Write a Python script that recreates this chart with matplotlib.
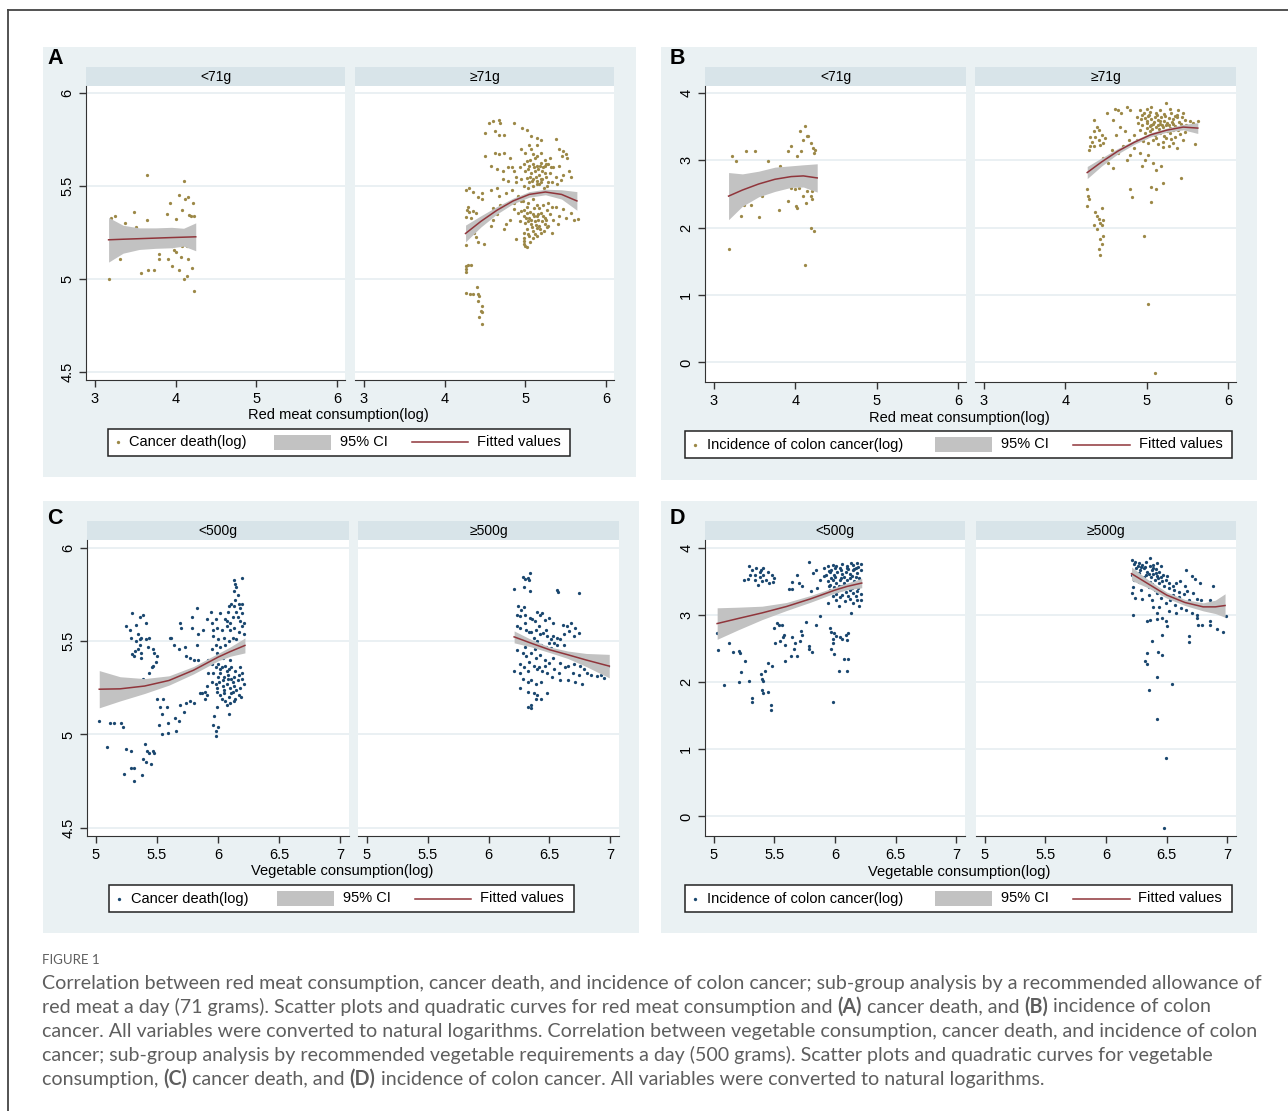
import matplotlib
matplotlib.use("Agg")
import matplotlib.pyplot as plt
from matplotlib.patches import Rectangle
from matplotlib.lines import Line2D
import numpy as np

W, H = 1288, 1111
plt.rcParams['font.family'] = ['Liberation Sans', 'DejaVu Sans']

# ---------------- data ----------------
meat_groups = ['<71g', '\u226571g']
veg_groups = ['<500g', '\u2265500g']

# A: red meat (log) vs cancer death (log)
a_lo = [(3.64,5.559),(4.11,5.527),(3.20,5.33),(3.25,5.34),(3.37,5.30),(3.49,5.36),(3.51,5.28),
        (3.64,5.32),(3.89,5.35),(3.93,5.41),(4.04,5.45),(4.12,5.43),(4.15,5.44),(4.08,5.37),
        (4.21,5.41),(4.19,5.34),(4.23,5.34),(4.01,5.325),(3.95,5.175),(3.98,5.157),(4.01,5.148),
        (4.08,5.175),(4.14,5.175),(4.07,5.12),(3.80,5.137),(3.80,5.11),(3.31,5.11),(3.66,5.05),
        (3.73,5.05),(3.57,5.03),(3.96,5.07),(4.04,5.05),(4.11,5.0),(4.14,5.015),(4.20,5.057),
        (3.17,5.0),(4.23,4.936),(4.17,5.345),(3.91,5.11),(4.15,5.11)]
a_hi = [(4.266,5.478),(4.307,5.487),(4.356,5.47),(4.409,5.443),(4.46,5.46),(4.47,5.43),(4.286,5.389),
        (4.274,5.371),(4.307,5.362),(4.356,5.367),(4.389,5.353),(4.266,5.335),(4.327,5.326),(4.45,5.317),
        (4.41,5.29),(4.47,5.30),(4.368,5.245),(4.389,5.228),(4.41,5.20),(4.49,5.19),(4.266,5.183),(4.286,5.27),
        (4.26,5.07),(4.29,5.077),(4.33,5.077),(4.27,5.054),(4.26,5.04),(4.26,4.925),(4.31,4.92),(4.35,4.92),
        (4.40,4.955),(4.41,4.92),(4.43,4.91),(4.42,4.884),(4.46,4.857),(4.45,4.83),(4.47,4.82),(4.43,4.795),
        (4.46,4.759),
        (4.55,5.84),(4.60,5.85),(4.67,5.857),(4.69,5.84),(4.62,5.795),(4.67,5.777),(4.74,5.777),(4.50,5.786),
        (4.86,5.84),(4.96,5.81),(5.02,5.80),(5.07,5.77),(5.14,5.76),(5.19,5.75),(5.38,5.755),(5.05,5.72),
        (5.14,5.72),(4.50,5.66),(4.62,5.68),(4.67,5.67),(4.74,5.68),(4.81,5.65),(4.95,5.70),(5.00,5.68),
        (5.07,5.70),(5.09,5.67),(5.14,5.66),(5.19,5.68),(5.24,5.64),(5.31,5.65),(5.42,5.70),(5.47,5.69),
        (5.45,5.66),(5.52,5.65),(5.50,5.67),
        (4.58,5.61),(4.65,5.59),(4.72,5.58),(4.79,5.60),(4.86,5.58),(4.93,5.60),(4.98,5.616),(5.02,5.634),
        (5.05,5.61),(5.09,5.62),(5.14,5.61),(5.19,5.625),(5.24,5.61),(5.28,5.616),(5.35,5.60),(5.42,5.61),
        (5.54,5.58),(5.57,5.55),(5.00,5.58),(5.07,5.57),(5.12,5.58),(5.17,5.56),(5.21,5.58),(5.26,5.55),
        (5.31,5.57),(5.38,5.55),(5.47,5.56),(4.72,5.536),(4.79,5.527),(4.88,5.52),(4.95,5.536),(5.02,5.545),
        (5.09,5.536),(5.14,5.527),(5.21,5.536),(5.28,5.52),(5.05,5.52),(4.98,5.50),(4.65,5.49),(4.58,5.48),
        (4.83,5.48),(5.04,5.59),(5.11,5.60),(5.16,5.59),(5.22,5.60),(5.06,5.55),(5.13,5.55),(5.19,5.54),
        (5.25,5.57),(5.03,5.49),(5.10,5.50),(5.17,5.51),(5.23,5.49),
        (5.06,5.64),(5.12,5.65),(5.18,5.61),(5.26,5.62),(5.32,5.60),(5.08,5.525),(5.15,5.51),(5.20,5.52),
        (5.27,5.50),(5.33,5.52),(5.39,5.51),(5.44,5.53),(4.89,5.55),(4.84,5.60),
        (4.67,5.446),(4.76,5.464),(4.91,5.446),(5.35,5.455),(5.45,5.446),(5.52,5.43),(4.86,5.41),
        (4.95,5.42),(5.02,5.39),(5.14,5.40),(5.28,5.41),(5.38,5.39),(4.69,5.40),(4.60,5.38),
        (4.97,5.42),(5.04,5.41),(5.10,5.43),(5.17,5.38),(5.22,5.40),(5.27,5.37),(5.33,5.39),(4.99,5.37),
        (5.06,5.36),(5.11,5.38),(5.16,5.32),(5.21,5.31),(5.26,5.32),(5.03,5.31),(5.08,5.28),(5.13,5.29),
        (5.18,5.27),(5.23,5.26),(5.01,5.33),(5.07,5.32),(5.11,5.34),(5.16,5.35),(5.22,5.34),(5.27,5.28),
        (5.03,5.24),(5.10,5.22),(5.15,5.23),(5.06,5.20),(4.99,5.22),
        (4.91,5.357),(4.95,5.366),(4.98,5.34),(5.02,5.357),(5.05,5.33),(5.09,5.35),(5.14,5.34),(5.19,5.357),
        (5.24,5.33),(5.31,5.35),(5.35,5.32),(5.42,5.34),(5.50,5.33),(5.61,5.32),(5.65,5.325),(4.93,5.31),
        (5.00,5.30),(5.07,5.295),(5.12,5.31),(5.17,5.286),(5.24,5.295),(5.28,5.286),(5.02,5.268),(5.09,5.259),
        (5.14,5.277),(4.98,5.25),(5.05,5.232),(5.12,5.241),(5.19,5.25),(5.33,5.25),(4.88,5.214),(4.98,5.205),
        (5.00,5.18),(5.02,5.17),(4.98,5.186),(4.76,5.295),(4.74,5.268),(4.81,5.32),(4.65,5.35),(4.60,5.32),
        (4.58,5.286),(4.86,5.375),(5.40,5.295),(5.47,5.375),(5.57,5.357)]
a_lo_fx = [3.17, 3.35, 3.55, 3.75, 3.95, 4.10, 4.25]
a_lo_fy = [5.211, 5.214, 5.217, 5.220, 5.223, 5.225, 5.227]
a_lo_ci = [0.12, 0.075, 0.058, 0.055, 0.055, 0.048, 0.075]
a_hi_fx = [4.26, 4.45, 4.65, 4.85, 5.05, 5.25, 5.45, 5.64]
a_hi_fy = [5.245, 5.31, 5.37, 5.42, 5.455, 5.468, 5.455, 5.42]
a_hi_ci = [0.045, 0.03, 0.02, 0.015, 0.015, 0.015, 0.025, 0.05]

# B: red meat (log) vs incidence of colon cancer (log)
b_lo = [(3.225,3.07),(3.27,2.99),(3.40,3.136),(3.51,3.146),(3.66,2.99),(3.905,3.136),(3.95,3.22),
        (4.02,3.07),(4.055,3.43),(4.125,3.506),(4.14,3.37),(4.10,3.31),(4.07,3.136),(4.16,3.36),
        (4.19,3.26),(4.22,3.185),(4.23,3.11),(4.24,3.16),(4.045,2.89),(4.09,2.89),(3.81,2.92),
        (3.95,2.59),(4.0,2.57),(4.04,2.59),(4.14,2.54),(4.21,2.54),(4.23,2.62),(3.905,2.395),
        (4.01,2.32),(4.02,2.30),(4.09,2.47),(4.13,2.37),(4.19,2.47),(4.21,2.43),(3.59,2.47),
        (3.37,2.34),(3.46,2.34),(3.33,2.17),(3.55,2.16),(3.80,2.26),(4.19,2.0),(4.23,1.95),
        (3.18,1.69),(4.12,1.44)]
b_hi = [(5.237,3.857),(5.0,3.77),(4.92,3.75),(5.06,3.80),(5.16,3.75),(5.29,3.76),(5.39,3.75),(5.45,3.70),
        (4.61,3.77),(4.65,3.75),(4.69,3.71),(4.51,3.71),(4.755,3.79),(4.80,3.75),
        (4.88,3.65),(4.94,3.675),(4.98,3.63),(5.02,3.66),(5.06,3.61),(5.10,3.65),(5.14,3.60),(5.18,3.64),
        (5.22,3.59),(5.27,3.63),(5.33,3.61),(5.37,3.64),(5.43,3.65),(5.47,3.60),(4.90,3.55),(4.95,3.53),
        (5.0,3.55),(5.04,3.51),(5.08,3.54),(5.12,3.50),(5.16,3.54),(5.20,3.50),(5.245,3.53),(5.29,3.48),
        (5.35,3.51),(5.39,3.45),(5.43,3.48),(5.49,3.53),(5.53,3.58),(5.57,3.56),(5.63,3.58),(4.92,3.45),
        (4.98,3.40),(5.04,3.43),(5.10,3.38),(5.16,3.41),(5.22,3.37),(5.29,3.40),(5.35,3.35),(5.41,3.39),
        (5.45,3.31),(4.84,3.38),(4.88,3.31),(4.96,3.29),(5.02,3.26),(5.08,3.31),(5.14,3.24),(5.20,3.28),
        (5.27,3.21),(5.33,3.26),(5.37,3.19),(5.60,3.24),(5.20,3.20),
        (4.97,3.70),(5.04,3.72),(5.12,3.71),(5.21,3.69),(5.30,3.70),(5.38,3.68),(5.01,3.58),(5.09,3.57),
        (5.17,3.58),(5.25,3.56),(5.31,3.57),(5.40,3.57),
        (5.03,3.68),(5.13,3.67),(5.23,3.66),(5.35,3.66),(5.06,3.53),(5.14,3.52),(5.19,3.53),(5.27,3.52),
        (5.32,3.54),(5.42,3.54),(4.93,3.62),(5.00,3.48),(5.07,3.46),(5.15,3.47),(5.25,3.44),(5.32,3.45),
        (5.47,3.42),(5.52,3.47),(4.99,3.35),(5.12,3.33),(5.24,3.33),(5.30,3.32),
        (4.59,3.60),(4.67,3.50),(4.63,3.38),(4.73,3.43),(4.78,3.31),(4.71,3.21),(4.65,3.11),(4.755,3.01),
        (4.80,3.08),(4.84,3.18),(4.92,3.11),(4.98,3.01),(5.02,3.08),(5.08,2.96),(5.12,2.86),(5.18,2.91),
        (4.94,2.91),(4.53,2.96),(4.59,2.89),(4.47,3.04),(4.39,2.91),(4.57,3.16),
        (4.35,3.43),(4.37,3.355),(4.33,3.28),(4.39,3.50),(4.42,3.45),(4.45,3.38),(4.49,3.33),(4.31,3.21),
        (4.29,3.16),(4.35,3.21),(4.41,3.31),(4.43,3.23),(4.47,3.26),(4.355,3.60),(4.30,3.35),
        (4.80,2.57),(4.82,2.455),(5.05,2.60),(5.12,2.58),(5.05,2.39),(5.20,2.67),(5.42,2.74),(4.97,1.88),
        (5.02,0.864),(5.10,-0.163),
        (4.265,2.57),(4.28,2.47),(4.29,2.42),(4.265,2.32),(4.37,2.24),(4.45,2.30),(4.39,2.17),(4.42,2.135),
        (4.47,2.12),(4.43,2.075),(4.45,2.04),(4.35,2.04),(4.39,1.98),(4.47,1.88),(4.43,1.84),(4.45,1.76),
        (4.42,1.68),(4.43,1.59)]
b_lo_fx = [3.18, 3.35, 3.55, 3.75, 3.95, 4.10, 4.27]
b_lo_fy = [2.47, 2.56, 2.65, 2.72, 2.76, 2.77, 2.74]
b_lo_ci = [0.35, 0.24, 0.19, 0.18, 0.16, 0.165, 0.21]
b_hi_fx = [4.27, 4.45, 4.65, 4.85, 5.05, 5.25, 5.45, 5.63]
b_hi_fy = [2.82, 2.98, 3.14, 3.27, 3.38, 3.45, 3.495, 3.48]
b_hi_ci = [0.09, 0.06, 0.04, 0.03, 0.03, 0.03, 0.04, 0.08]

# C: vegetable (log) vs cancer death (log)
c_lo = [(5.028,5.075),(5.094,4.932),(5.12,5.06),(5.15,5.06),(5.21,5.06),(5.22,5.04),
        (5.25,4.92),(5.29,4.91),(5.23,4.79),(5.29,4.82),(5.31,4.75),(5.31,4.82),(5.38,4.78),(5.40,4.95),
        (5.42,4.91),(5.44,4.90),(5.47,4.91),(5.48,4.90),(5.39,4.87),(5.41,4.85),(5.45,4.84),
        (5.30,5.65),(5.36,5.63),(5.39,5.64),(5.41,5.60),(5.33,5.59),(5.25,5.58),(5.28,5.56),(5.29,5.52),
        (5.35,5.54),(5.36,5.51),(5.37,5.52),(5.33,5.50),(5.36,5.48),(5.41,5.51),(5.44,5.52),(5.32,5.45),
        (5.35,5.46),(5.37,5.44),(5.30,5.43),(5.31,5.42),(5.37,5.41),(5.43,5.47),(5.47,5.46),(5.48,5.44),
        (5.50,5.42),(5.49,5.39),(5.47,5.37),(5.46,5.36),(5.44,5.33),(5.39,5.30),
        (5.50,5.19),(5.55,5.19),(5.53,5.15),(5.58,5.15),(5.54,5.11),(5.52,5.05),(5.59,5.06),(5.54,5.00),
        (5.66,5.02),(5.59,5.01),(5.68,5.07),(5.65,5.09),(5.72,5.12),(5.69,5.16),(5.74,5.17),(5.77,5.18),
        (5.80,5.17),(5.85,5.22),(5.89,5.19),(5.91,5.21),(5.87,5.22),(5.61,5.52),(5.62,5.52),(5.69,5.60),
        (5.70,5.57),(5.64,5.48),(5.68,5.46),(5.73,5.47),(5.74,5.42),(5.77,5.41),(5.80,5.40),(5.84,5.40),
        (5.79,5.63),(5.83,5.68),(5.79,5.57),(5.84,5.54),(5.83,5.48),(5.88,5.56),(5.91,5.62),(5.94,5.66),
        (5.95,5.60),(5.96,5.56),
        (6.13,5.83),(6.14,5.81),(6.15,5.79),(6.20,5.84),(6.13,5.77),(6.16,5.75),(6.14,5.72),(6.11,5.70),
        (6.09,5.69),(6.13,5.69),(6.17,5.70),(6.18,5.68),(6.20,5.70),(6.20,5.65),(6.08,5.66),(6.15,5.66),
        (6.12,5.63),(6.18,5.61),(6.21,5.60),(6.02,5.65),(5.98,5.62),(6.07,5.61),
        (6.06,5.62),(6.10,5.60),(6.16,5.63),
        (5.99,5.57),(6.03,5.56),(6.07,5.58),(6.10,5.56),(6.13,5.57),(6.17,5.55),(6.20,5.58),(6.21,5.54),
        (5.96,5.53),(6.00,5.51),(6.05,5.52),(6.09,5.50),(6.12,5.52),(6.15,5.51),(6.19,5.49),(5.98,5.48),
        (6.02,5.47),(6.06,5.48),(6.09,5.45),(6.13,5.47),(6.17,5.45),(5.95,5.46),(5.99,5.44),(6.07,5.43),
        (5.92,5.40),(5.95,5.38),(5.98,5.36),(6.00,5.38),(6.03,5.36),(6.06,5.37),(6.09,5.35),(6.11,5.36),
        (6.14,5.34),(6.18,5.36),(6.20,5.33),(5.96,5.33),(6.00,5.31),(6.02,5.33),(6.05,5.31),(6.08,5.32),
        (6.11,5.30),(6.13,5.31),(6.16,5.29),(6.20,5.30),(5.95,5.28),(5.98,5.27),(6.01,5.28),(6.04,5.26),
        (6.07,5.27),(6.10,5.25),(6.13,5.26),(6.15,5.24),(6.18,5.25),(6.21,5.27),(5.91,5.26),(5.89,5.23),
        (6.04,5.29),(6.08,5.30),(6.12,5.28),(6.17,5.32),(6.02,5.35),(6.07,5.34),(6.04,5.41),(6.10,5.40),
        (6.05,5.24),(6.12,5.23),(6.17,5.21),(6.03,5.19),(6.19,5.20),
        (5.99,5.23),(6.02,5.21),(6.05,5.22),(6.09,5.20),(6.11,5.22),(6.14,5.19),(6.06,5.18),(6.10,5.17),
        (6.13,5.18),(6.07,5.16),(5.99,5.15),(6.09,5.11),(5.97,5.10),(5.96,5.05),(6.00,5.04),(5.98,5.02),
        (5.98,4.99),(5.99,5.25),(5.92,5.33)]
c_hi = [(6.28,5.845),(6.30,5.834),(6.32,5.84),(6.34,5.866),(6.33,5.83),(6.21,5.78),(6.29,5.79),(6.34,5.77),
        (6.56,5.774),(6.57,5.767),(6.74,5.76),
        (6.245,5.69),(6.27,5.67),(6.29,5.685),(6.23,5.64),(6.26,5.635),(6.30,5.644),(6.40,5.66),(6.42,5.644),
        (6.44,5.65),(6.34,5.626),(6.38,5.608),(6.46,5.617),(6.50,5.626),(6.53,5.60),(6.61,5.59),(6.64,5.58),
        (6.68,5.60),(6.71,5.57),(6.66,5.555),
        (6.33,5.55),(6.37,5.52),(6.41,5.58),(6.47,5.56),(6.53,5.53),(6.30,5.60),(6.36,5.62),(6.50,5.49),
        (6.56,5.52),(6.62,5.48),
        (6.23,5.58),(6.26,5.57),(6.31,5.56),(6.35,5.55),(6.39,5.56),(6.42,5.537),(6.45,5.545),(6.48,5.53),
        (6.51,5.51),(6.54,5.49),(6.56,5.48),(6.59,5.51),(6.62,5.54),(6.70,5.53),(6.74,5.545),(6.245,5.53),
        (6.28,5.51),(6.34,5.50),(6.40,5.50),(6.43,5.48),(6.47,5.47),(6.51,5.465),(6.37,5.475),
        (6.23,5.456),(6.28,5.44),(6.31,5.42),(6.35,5.44),(6.39,5.41),(6.42,5.425),(6.46,5.40),(6.50,5.385),
        (6.53,5.41),(6.59,5.385),(6.65,5.37),(6.70,5.376),(6.75,5.37),(6.78,5.35),(6.81,5.33),(6.84,5.32),
        (6.89,5.314),(6.92,5.32),(6.95,5.305),(6.98,5.37),(6.21,5.34),(6.26,5.33),(6.29,5.36),(6.32,5.34),
        (6.37,5.37),(6.40,5.35),(6.44,5.34),(6.48,5.33),(6.54,5.35),(6.59,5.29),(6.65,5.29),(6.71,5.28),
        (6.77,5.27),(6.28,5.30),(6.32,5.28),(6.35,5.29),(6.39,5.27),(6.43,5.28),(6.26,5.25),(6.32,5.23),
        (6.26,5.38),(6.33,5.39),(6.41,5.36),(6.46,5.37),(6.52,5.31),(6.58,5.33),(6.63,5.36),(6.69,5.33),
        (6.74,5.32),(6.30,5.47),(6.38,5.46),
        (6.37,5.22),(6.40,5.21),(6.43,5.19),(6.39,5.19),(6.48,5.225),(6.35,5.157),(6.35,5.14),(6.32,5.145)]
c_lo_fx = [5.03, 5.2, 5.4, 5.6, 5.8, 6.0, 6.1, 6.22]
c_lo_fy = [5.243, 5.245, 5.26, 5.29, 5.345, 5.415, 5.445, 5.478]
c_lo_ci = [0.10, 0.065, 0.04, 0.025, 0.02, 0.02, 0.025, 0.04]
c_hi_fx = [6.21, 6.35, 6.5, 6.65, 6.8, 6.99]
c_hi_fy = [5.524, 5.49, 5.455, 5.428, 5.40, 5.367]
c_hi_ci = [0.032, 0.02, 0.015, 0.02, 0.035, 0.063]

# D: vegetable (log) vs incidence of colon cancer (log)
d_lo = [(5.29,3.73),(5.32,3.68),(5.35,3.70),(5.39,3.68),(5.41,3.70),(5.45,3.65),(5.48,3.60),(5.50,3.555),
        (5.34,3.60),(5.38,3.57),(5.41,3.60),(5.34,3.53),(5.37,3.455),(5.40,3.505),(5.25,3.52),(5.28,3.54),
        (5.30,3.60),(5.46,3.48),(5.49,3.49),(5.43,3.53),(5.38,3.64),
        (5.62,3.39),(5.65,3.39),(5.65,3.49),(5.69,3.60),(5.70,3.48),(5.73,3.44),(5.79,3.80),(5.82,3.63),
        (5.84,3.67),(5.85,3.41),(5.88,3.53),(5.91,3.58),(5.80,3.36),
        (5.91,3.70),(5.945,3.73),(5.98,3.75),(6.01,3.74),(6.055,3.77),(6.095,3.73),(6.13,3.78),(6.15,3.75),
        (6.18,3.78),(6.21,3.77),(5.93,3.60),(5.96,3.64),(5.99,3.60),(6.02,3.65),(6.055,3.62),(6.09,3.65),
        (6.12,3.62),(6.15,3.67),(6.18,3.63),(6.21,3.68),(5.945,3.505),(5.98,3.53),(6.01,3.48),(6.04,3.52),
        (6.07,3.48),(6.10,3.53),(6.13,3.47),(6.16,3.505),(6.195,3.455),(5.96,3.38),(5.99,3.42),(6.02,3.36),
        (6.055,3.39),(6.09,3.34),(6.12,3.38),(6.15,3.33),(6.18,3.36),(6.21,3.31),(5.98,3.28),(6.01,3.23),
        (6.045,3.27),(6.08,3.21),(6.12,3.24),(6.15,3.18),(6.18,3.23),(6.195,3.14),(5.945,3.18),(6.03,3.14),
        (5.97,3.68),(6.04,3.70),(6.11,3.69),(6.17,3.71),(6.00,3.57),(6.07,3.57),(6.14,3.58),(6.20,3.56),
        (5.96,3.45),(6.06,3.44),(6.16,3.43),
        (5.95,3.66),(6.00,3.70),(6.05,3.67),(6.10,3.71),(6.16,3.69),(6.19,3.72),(5.97,3.55),(6.05,3.56),
        (6.12,3.55),(6.17,3.57),(6.03,3.43),(6.09,3.42),(6.14,3.40),(6.19,3.40),(6.01,3.31),(6.06,3.30),
        (6.11,3.29),(6.17,3.28),(6.21,3.23),(5.95,3.43),
        (5.96,2.81),(5.97,2.75),(5.99,2.73),(6.01,2.69),(5.98,2.64),(5.98,2.58),(5.97,2.49),(5.99,2.42),
        (6.04,2.68),(6.06,2.64),(6.09,2.71),(6.11,2.73),(6.10,2.63),(6.03,2.17),(6.10,2.17),(6.07,2.34),
        (6.11,2.34),(6.13,3.03),(5.88,2.99),(5.84,2.85),(5.98,1.70),
        (5.03,2.73),(5.04,2.48),(5.125,2.58),(5.16,2.45),(5.21,2.47),(5.22,2.43),(5.26,2.32),(5.23,2.15),
        (5.29,2.02),(5.21,2.0),(5.09,1.96),(5.32,1.76),(5.32,1.71),(5.39,2.13),(5.42,2.17),(5.40,2.05),
        (5.41,2.02),(5.45,2.29),(5.48,2.25),(5.40,1.89),(5.41,1.84),(5.45,1.85),(5.47,1.66),(5.47,1.59),
        (5.50,2.81),(5.52,2.89),(5.54,2.86),(5.51,2.58),(5.545,2.61),(5.56,2.85),(5.58,2.71),(5.59,2.56),
        (5.57,2.68),(5.65,2.68),(5.67,2.59),(5.64,2.39),(5.585,2.32),(5.69,2.39),(5.72,2.76),(5.73,2.71),
        (5.71,2.61),(5.76,2.90),(5.79,2.54),(5.79,2.49),(5.81,2.45),(5.66,2.50)]
d_hi = [(6.21,3.82),(6.24,3.80),(6.27,3.78),(6.30,3.75),(6.33,3.79),(6.36,3.85),(6.385,3.75),(6.42,3.78),
        (6.45,3.74),(6.25,3.70),(6.28,3.68),(6.31,3.70),(6.34,3.65),(6.375,3.68),(6.41,3.63),(6.44,3.65),
        (6.47,3.60),(6.50,3.58),(6.21,3.60),(6.23,3.53),(6.27,3.49),(6.30,3.54),(6.33,3.505),(6.37,3.57),
        (6.40,3.53),(6.43,3.555),(6.46,3.505),(6.49,3.53),(6.22,3.42),(6.29,3.38),(6.21,3.33),(6.24,3.26),
        (6.22,3.0),(6.30,3.24),(6.26,3.74),(6.32,3.72),(6.39,3.71),(6.35,3.61),(6.42,3.59),(6.38,3.47),
        (6.23,3.76),(6.29,3.72),(6.36,3.74),(6.41,3.69),(6.27,3.63),(6.33,3.60),(6.39,3.62),(6.45,3.57),
        (6.31,3.57),(6.36,3.50),(6.44,3.48),(6.48,3.44),(6.52,3.40),(6.35,3.42),(6.40,3.38),(6.46,3.35),
        (6.55,3.30),(6.60,3.27),(6.68,3.22),(6.35,3.30),(6.38,3.22),(6.44,3.12),(6.52,3.06),(6.58,3.04),
        (6.52,3.48),(6.55,3.43),(6.58,3.48),(6.61,3.505),(6.65,3.44),(6.66,3.67),(6.705,3.58),(6.73,3.54),
        (6.77,3.48),(6.56,3.38),(6.60,3.34),(6.64,3.31),(6.67,3.36),(6.72,3.33),(6.75,3.24),(6.78,3.22),
        (6.86,3.23),(6.88,3.44),(6.89,3.18),(6.42,3.33),(6.45,3.26),(6.49,3.18),(6.53,3.23),(6.57,3.16),
        (6.62,3.11),(6.66,3.08),(6.71,3.03),(6.75,3.01),(6.39,3.13),(6.42,3.03),(6.46,2.96),(6.49,2.91),
        (6.50,2.84),(6.42,2.94),(6.36,2.93),(6.34,2.91),(6.86,2.91),(6.86,2.86),(6.79,2.86),(6.76,2.85),
        (6.68,2.69),(6.685,2.60),(6.75,2.96),(6.91,2.79),(6.96,2.75),(6.99,2.985),
        (6.46,2.70),(6.375,2.61),(6.34,2.44),(6.32,2.32),(6.34,2.27),(6.43,2.45),(6.46,2.40),(6.42,2.08),
        (6.355,1.88),(6.54,1.97),(6.42,1.45),(6.49,0.87),(6.48,-0.17)]
d_lo_fx = [5.03, 5.2, 5.4, 5.6, 5.8, 6.0, 6.1, 6.22]
d_lo_fy = [2.876, 2.95, 3.035, 3.13, 3.245, 3.375, 3.43, 3.48]
d_lo_ci = [0.235, 0.17, 0.10, 0.06, 0.05, 0.045, 0.05, 0.07]
d_hi_fx = [6.21, 6.35, 6.5, 6.65, 6.8, 6.9, 6.98]
d_hi_fy = [3.62, 3.465, 3.30, 3.19, 3.125, 3.125, 3.145]
d_hi_ci = [0.10, 0.06, 0.045, 0.045, 0.06, 0.10, 0.175]

meat_xticks = [3, 4, 5, 6]
veg_xticks = [5, 5.5, 6, 6.5, 7]
death_yticks = [4.5, 5, 5.5, 6]
colon_yticks = [0, 1, 2, 3, 4]

# ---------------- styles ----------------
BG = '#eaf1f3'
HEAD = '#d8e4e9'
GRID = '#e6eef1'
KHAKI = '#9c8847'
NAVY = '#1a476f'
MAROON = '#90353b'
CIGRAY = '#c2c2c2'
FS = 10.5

fig = plt.figure(figsize=(W / 100, H / 100), dpi=100)


def frect(x0, y0, x1, y1, **kw):
    fig.add_artist(Rectangle((x0 / W, 1 - y1 / H), (x1 - x0) / W, (y1 - y0) / H,
                             transform=fig.transFigure, **kw))


def ftext(x, y, s, **kw):
    return fig.text(x / W, 1 - y / H, s, **kw)


def fmt(v):
    return ('%g' % v)


def facet(x0, x1, y0, y1, hy0, title, pts, fx, fy, ci, color, xlim, ylim, xt, yt, first):
    frect(x0, hy0, x1, y0, facecolor=HEAD, lw=0, zorder=-5)
    ftext((x0 + x1) / 2, (hy0 + y0) / 2, title, ha='center', va='center', fontsize=10)
    ax = fig.add_axes([x0 / W, 1 - y1 / H, (x1 - x0) / W, (y1 - y0) / H])
    ax.set_facecolor('white')
    p = np.array(pts)
    ax.scatter(p[:, 0], p[:, 1], s=5.5, c=color, linewidths=0, zorder=2)
    fx, fy, ci = np.array(fx), np.array(fy), np.array(ci)
    ax.fill_between(fx, fy - ci, fy + ci, color=CIGRAY, lw=0, zorder=3)
    ax.plot(fx, fy, color=MAROON, lw=1.1, zorder=4)
    ax.set_xlim(xlim)
    ax.set_ylim(ylim)
    ax.set_xticks(xt)
    ax.set_xticklabels([fmt(v) for v in xt], fontsize=FS)
    ax.set_yticks(yt)
    ax.grid(axis='y', color=GRID, lw=1.2)
    ax.set_axisbelow(True)
    for s in ['top', 'right']:
        ax.spines[s].set_visible(False)
    ax.spines['bottom'].set_color('#333')
    ax.spines['left'].set_color('#333')
    ax.tick_params(axis='x', length=5, width=1, color='#333', pad=3.5)
    if first:
        ax.set_yticklabels([fmt(v) for v in yt], fontsize=FS)
        ax.tick_params(axis='y', length=5, width=1, color='#333', pad=3.5)
        for lab in ax.get_yticklabels():
            lab.set_rotation(90)
            lab.set_va('center')
    else:
        ax.spines['left'].set_visible(False)
        ax.tick_params(axis='y', left=False, labelleft=False)
    return ax


def legend(box, dot_x, lab_x, patch, ci_x, line, fit_x, label, color):
    x0, y0, x1, y1 = box
    cy = (y0 + y1) / 2
    frect(x0, y0, x1, y1, facecolor='white', edgecolor='#222', lw=1.1, zorder=5)
    fig.add_artist(Line2D([dot_x / W], [1 - cy / H], marker='o', ms=2.4, mew=0, color=color,
                          ls='none', transform=fig.transFigure, zorder=6))
    ftext(lab_x, cy, label, ha='left', va='center', fontsize=FS, zorder=6)
    frect(patch[0], cy - 7.5, patch[1], cy + 7.5, facecolor=CIGRAY, lw=0, zorder=6)
    ftext(ci_x, cy, '95% CI', ha='left', va='center', fontsize=FS, zorder=6)
    fig.add_artist(Line2D([line[0] / W, line[1] / W], [1 - cy / H] * 2, color=MAROON, lw=1.1,
                          transform=fig.transFigure, zorder=6))
    ftext(fit_x, cy, 'Fitted values', ha='left', va='center', fontsize=FS, zorder=6)


# outer frame
fig.add_artist(Line2D([8 / W, 1.0], [1 - 10 / H] * 2, color='#444', lw=1.3, transform=fig.transFigure))
fig.add_artist(Line2D([8 / W] * 2, [1 - 10 / H, 0], color='#444', lw=1.3, transform=fig.transFigure))

# panel backgrounds
frect(43, 47, 636, 477, facecolor=BG, lw=0, zorder=-10)
frect(661, 47, 1257, 480, facecolor=BG, lw=0, zorder=-10)
frect(43, 501, 639, 933, facecolor=BG, lw=0, zorder=-10)
frect(661, 501, 1257, 933, facecolor=BG, lw=0, zorder=-10)

for (x, y, s) in [(47, 58, 'A'), (670, 58, 'B'), (47, 519, 'C'), (670, 519, 'D')]:
    ftext(x, y, s, ha='left', va='center', fontsize=15.5, fontweight='bold')

# panel A
mx = (2.89, 6.10)
facet(86, 345, 86, 380, 67, meat_groups[0], a_lo, a_lo_fx, a_lo_fy, a_lo_ci, KHAKI, mx, (4.457, 6.038),
      meat_xticks, death_yticks, True)
facet(355, 614, 86, 380, 67, meat_groups[1], a_hi, a_hi_fx, a_hi_fy, a_hi_ci, KHAKI, mx, (4.457, 6.038),
      meat_xticks, death_yticks, False)
ftext(338, 415, 'Red meat consumption(log)', ha='center', va='center', fontsize=FS)
legend((108, 429, 570, 456), 118, 129, (274, 331), 340, (412, 468), 477, 'Cancer death(log)', KHAKI)

# panel B
facet(705, 966, 86, 382, 67, meat_groups[0], b_lo, b_lo_fx, b_lo_fy, b_lo_ci, KHAKI, mx, (-0.29, 4.105),
      meat_xticks, colon_yticks, True)
facet(975, 1236, 86, 382, 67, meat_groups[1], b_hi, b_hi_fx, b_hi_fy, b_hi_ci, KHAKI, mx, (-0.29, 4.105),
      meat_xticks, colon_yticks, False)
ftext(959, 418, 'Red meat consumption(log)', ha='center', va='center', fontsize=FS)
legend((685, 431, 1232, 458), 695, 707, (935, 992), 1001, (1073, 1130), 1139,
       'Incidence of colon cancer(log)', KHAKI)

# panel C
vx = (4.93, 7.07)
facet(87, 349, 540, 836, 521, veg_groups[0], c_lo, c_lo_fx, c_lo_fy, c_lo_ci, NAVY, vx, (4.455, 6.044),
      veg_xticks, death_yticks, True)
facet(358, 619, 540, 836, 521, veg_groups[1], c_hi, c_hi_fx, c_hi_fy, c_hi_ci, NAVY, vx, (4.455, 6.044),
      veg_xticks, death_yticks, False)
ftext(342, 871, 'Vegetable consumption(log)', ha='center', va='center', fontsize=FS)
legend((109, 885, 574, 912), 119, 131, (277, 334), 343, (415, 471), 480, 'Cancer death(log)', NAVY)

# panel D
facet(705, 965, 540, 836, 521, veg_groups[0], d_lo, d_lo_fx, d_lo_fy, d_lo_ci, NAVY, vx, (-0.292, 4.122),
      veg_xticks, colon_yticks, True)
facet(976, 1236, 540, 836, 521, veg_groups[1], d_hi, d_hi_fx, d_hi_fy, d_hi_ci, NAVY, vx, (-0.292, 4.122),
      veg_xticks, colon_yticks, False)
ftext(959, 872, 'Vegetable consumption(log)', ha='center', va='center', fontsize=FS)
legend((685, 885, 1232, 912), 695, 707, (935, 992), 1001, (1073, 1130), 1138,
       'Incidence of colon cancer(log)', NAVY)

# caption
CAP = '#5e5e5e'
ftext(42, 960, 'FIGURE 1', ha='left', va='center', fontsize=9.5, color=CAP, family=['Lato', 'DejaVu Sans'])
cap_lines = [
    [('Correlation between red meat consumption, cancer death, and incidence of colon cancer; sub-group analysis by a recommended allowance of', False)],
    [('red meat a day (71 grams). Scatter plots and quadratic curves for red meat consumption and ', False), ('(A)', True),
     (' cancer death, and ', False), ('(B)', True), (' incidence of colon', False)],
    [('cancer. All variables were converted to natural logarithms. Correlation between vegetable consumption, cancer death, and incidence of colon', False)],
    [('cancer; sub-group analysis by recommended vegetable requirements a day (500 grams). Scatter plots and quadratic curves for vegetable', False)],
    [('consumption, ', False), ('(C)', True), (' cancer death, and ', False), ('(D)', True),
     (' incidence of colon cancer. All variables were converted to natural logarithms.', False)],
]
renderer = fig.canvas.get_renderer()
probe = ftext(0, 0, cap_lines[0][0][0], fontsize=12, family=['Lato', 'DejaVu Sans'])
cap_fs = 12 * 1214 / probe.get_window_extent(renderer).width
probe.remove()
for i, line in enumerate(cap_lines):
    x = 42
    y = 983 + 24 * i
    for txt, bold in line:
        t = ftext(x, y, txt, ha='left', va='center', fontsize=cap_fs, color=CAP,
                  fontweight='bold' if bold else 'normal', family=['Lato', 'DejaVu Sans'])
        x += t.get_window_extent(renderer).width

fig.savefig('out.png', dpi=100)
